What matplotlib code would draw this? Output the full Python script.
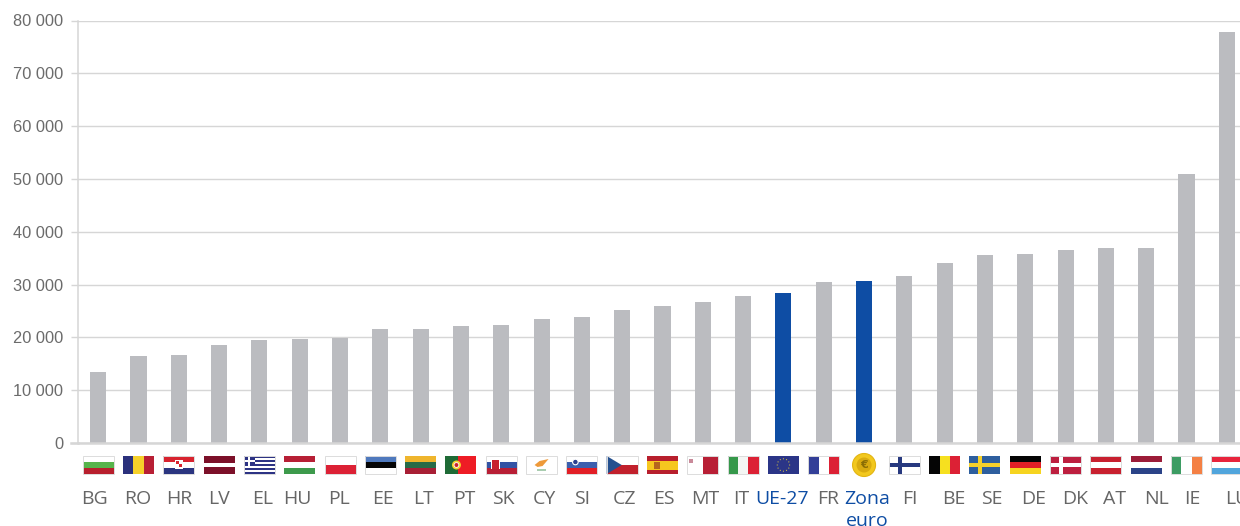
import matplotlib
matplotlib.use('Agg')
from matplotlib import pyplot as plt
from matplotlib.patches import Rectangle, Circle, Polygon
from matplotlib.transforms import Affine2D
import numpy as np

paises = ['BG', 'RO', 'HR', 'LV', 'EL', 'HU', 'PL', 'EE', 'LT', 'PT', 'SK', 'CY', 'SI', 'CZ', 'ES',
          'MT', 'IT', 'UE-27', 'FR', 'Zona\neuro', 'FI', 'BE', 'SE', 'DE', 'DK', 'AT', 'NL', 'IE', 'LU']
valores = [13400, 16400, 16600, 18500, 19500, 19700, 19800, 21500, 21500, 22100, 22300, 23400, 23800, 25100, 25900,
           26700, 27800, 28400, 30500, 30700, 31600, 34100, 35600, 35700, 36500, 36900, 36900, 51000, 77800]
destaque = ['UE-27', 'Zona\neuro']
yticks = [0, 10000, 20000, 30000, 40000, 50000, 60000, 70000, 80000]

# bandeiras simples: direcao das faixas e cores
bandeiras = {
    'BG': ('h', ['#ffffff', '#56b44b', '#b81f2d']),
    'RO': ('v', ['#2b317c', '#f6d12a', '#b81f35']),
    'HR': ('h', ['#d8232f', '#ffffff', '#2b3580']),
    'LV': ('h', ['#7c1029', '#7c1029', '#ffffff', '#7c1029', '#7c1029']),
    'EL': ('h', ['#2d3384', '#ffffff'] * 4 + ['#2d3384']),
    'HU': ('h', ['#b71f35', '#ffffff', '#3d9a4c']),
    'PL': ('h', ['#ffffff', '#dc2135']),
    'EE': ('h', ['#4f79bd', '#050505', '#ffffff']),
    'LT': ('h', ['#efb52d', '#276b47', '#a81f35']),
    'PT': ('v', ['#1f6b36', '#1f6b36', '#ee1c25', '#ee1c25', '#ee1c25']),
    'SK': ('h', ['#ffffff', '#3353a4', '#b81f35']),
    'CY': ('h', ['#ffffff']),
    'SI': ('h', ['#ffffff', '#3c5fae', '#e21f26']),
    'CZ': ('h', ['#ffffff', '#c1202c']),
    'ES': ('h', ['#b81f2d', '#f6c71f', '#f6c71f', '#b81f2d']),
    'MT': ('v', ['#ffffff', '#b81f35']),
    'IT': ('v', ['#35984a', '#f4f6f4', '#dc2135']),
    'UE-27': ('h', ['#2b3587']),
    'FR': ('v', ['#333f98', '#ffffff', '#dc2135']),
    'Zona\neuro': ('h', []),
    'FI': ('h', ['#ffffff']),
    'BE': ('v', ['#050505', '#f6e01f', '#dc2135']),
    'SE': ('h', ['#2e5f9e']),
    'DE': ('h', ['#050505', '#e01f26', '#f6d41f']),
    'DK': ('h', ['#bd1f3f']),
    'AT': ('h', ['#c8202f', '#ffffff', '#c8202f']),
    'NL': ('h', ['#9c1c38', '#ffffff', '#2b4388']),
    'IE': ('v', ['#3d9c63', '#ffffff', '#f48044']),
    'LU': ('h', ['#e8243c', '#ffffff', '#51a5dc']),
}
com_borda = ['BG', 'HR', 'EL', 'PL', 'EE', 'SK', 'CY', 'SI', 'CZ', 'MT', 'IT', 'FR', 'FI', 'DK', 'AT', 'IE', 'LU']

cinza = '#bbbcc0'
azul = '#0e4da4'
cor_grade = '#d6d6d6'

fig = plt.figure(figsize=(12.4, 5.26), dpi=100)
ax = fig.add_axes([78 / 1240, 1 - 443 / 526, 1169 / 1240, 422.5 / 526])

x = np.arange(len(paises))
cores = [azul if p in destaque else cinza for p in paises]
ax.bar(x, valores, width=0.4, color=cores, zorder=3)

ax.set_xlim(-0.5, len(paises) - 0.5)
ax.set_ylim(0, 80000)
ax.set_yticks(yticks)
ax.set_yticklabels([f'{v:,}'.replace(',', ' ') for v in yticks], family='Liberation Sans', fontsize=11.8, color='#6b6b6b')
ax.tick_params(axis='y', length=5, width=1, color=cor_grade, pad=5.5)
ax.tick_params(axis='x', length=0, labelbottom=False)
ax.grid(axis='y', color=cor_grade, linewidth=1, zorder=0)
ax.set_axisbelow(True)
for lado in ['top', 'right']:
    ax.spines[lado].set_visible(False)
ax.spines['left'].set_color(cor_grade)
ax.spines['left'].set_linewidth(1.1)
ax.spines['bottom'].set_color(cor_grade)
ax.spines['bottom'].set_linewidth(1.8)
ax.spines['bottom'].set_zorder(4)
# a linha de base comeca um pouco antes do eixo
ax.plot([-0.67, -0.5], [0, 0], color=cor_grade, linewidth=1.8, clip_on=False)

# coordenadas em pixels com y para baixo, para a faixa das bandeiras
px = Affine2D().scale(1, -1).translate(0, 526)


def ret(x0, y0, w, h, cor, z=5):
    fig.add_artist(Rectangle((x0, y0), w, h, facecolor=cor, edgecolor='none', transform=px, zorder=z))


def cruz(x0, y0, fundo, cor, cx=11, t=4):
    ret(x0, y0, 31, 18, fundo)
    ret(x0 + cx - t / 2, y0, t, 18, cor, 6)
    ret(x0, y0 + 9 - t / 2, 31, t, cor, 6)


def desenha_bandeira(pais, xc):
    x0 = xc - 15.5
    y0 = 456
    direcao, faixas = bandeiras[pais]
    n = len(faixas)
    for i, c in enumerate(faixas):
        if direcao == 'h':
            ret(x0, y0 + i * 18 / n, 31, 18 / n, c)
        else:
            ret(x0 + i * 31 / n, y0, 31 / n, 18, c)
    if pais == 'HR':
        ret(xc - 4, y0 + 4, 8, 9, '#ffffff', 6)
        ret(xc - 3, y0 + 5, 3, 3, '#d8232f', 7)
        ret(xc, y0 + 8, 3, 3, '#d8232f', 7)
    elif pais == 'EL':
        ret(x0, y0, 11, 10, '#2d3384', 6)
        ret(x0 + 4.5, y0, 2, 10, '#ffffff', 7)
        ret(x0, y0 + 4, 11, 2, '#ffffff', 7)
    elif pais == 'PT':
        fig.add_artist(Circle((x0 + 11, y0 + 9), 4.5, facecolor='#f6d12a', edgecolor='none', transform=px, zorder=6))
        fig.add_artist(Circle((x0 + 11, y0 + 9), 2.4, facecolor='#c8202f', edgecolor='#ffffff', linewidth=0.6, transform=px, zorder=7))
    elif pais == 'SK':
        ret(x0 + 5, y0 + 3, 9, 10, '#ffffff', 6)
        ret(x0 + 6, y0 + 4, 7, 9, '#c8202f', 7)
    elif pais == 'CY':
        fig.add_artist(Polygon([(xc - 7, y0 + 9), (xc - 2, y0 + 5), (xc + 7, y0 + 3), (xc + 1, y0 + 10), (xc - 4, y0 + 11)],
                               facecolor='#ee9a3a', edgecolor='none', transform=px, zorder=6))
        ret(xc - 5, y0 + 13, 9, 1.5, '#a9cdb0', 6)
    elif pais == 'SI':
        fig.add_artist(Circle((x0 + 9, y0 + 6), 2.8, facecolor='#2b3f8f', edgecolor='#ffffff', linewidth=0.8, transform=px, zorder=6))
    elif pais == 'CZ':
        fig.add_artist(Polygon([(x0, y0), (x0 + 15, y0 + 9), (x0, y0 + 18)], facecolor='#24508f', edgecolor='none', transform=px, zorder=6))
    elif pais == 'ES':
        ret(x0 + 7, y0 + 6, 6, 7, '#b5651d', 6)
    elif pais == 'MT':
        ret(x0 + 2, y0 + 3, 4, 4, '#c98a9a', 6)
    elif pais == 'UE-27':
        for a in np.arange(0, 360, 30):
            sx = xc + 6.2 * np.cos(np.radians(a))
            sy = y0 + 9 + 6.2 * np.sin(np.radians(a))
            fig.add_artist(Circle((sx, sy), 0.6, facecolor='#c9b84a', edgecolor='none', transform=px, zorder=6))
    elif pais == 'Zona\neuro':
        fig.add_artist(Circle((xc, y0 + 9), 11.5, facecolor='#f2c81e', edgecolor='#e3b512', linewidth=0.8, transform=px, zorder=6))
        fig.add_artist(Circle((xc, y0 + 9), 7.5, facecolor='#d9ab10', edgecolor='none', transform=px, zorder=7))
        fig.text(xc, y0 + 9.5, '€', transform=px, family='DejaVu Sans', fontsize=8, fontweight='bold', color='#8a6d05', ha='center', va='center', zorder=8)
    elif pais == 'FI':
        cruz(x0, y0, '#ffffff', '#27397f')
    elif pais == 'SE':
        cruz(x0, y0, '#2e5f9e', '#f6d12a')
    elif pais == 'DK':
        cruz(x0, y0, '#bd1f3f', '#ffffff')
    if pais in com_borda:
        fig.add_artist(Rectangle((x0, y0), 31, 18, facecolor='none', edgecolor='#dcdcdc', linewidth=0.7, transform=px, zorder=8))


# ajuste de cada rotulo em relacao a barra (pixels)
desvio = [-4, -1, 0, 0, 3, -2, -1, 3, 3, 3, 2, 3, 0, 2, 1, 2, -2, -1, 4, 3, 6, 9, 7, 8, 10, 9, 10, 6, 10]

for i, p in enumerate(paises):
    xc = ax.transData.transform((i, 0))[0]
    desenha_bandeira(p, xc)
    cor = azul if p in destaque else '#666666'
    fig.text(xc + desvio[i], 490, p, transform=px, family='Open Sans', fontsize=14, color=cor,
             ha='center', va='top', linespacing=1.25, zorder=5)

fig.savefig('out.png', dpi=100)
